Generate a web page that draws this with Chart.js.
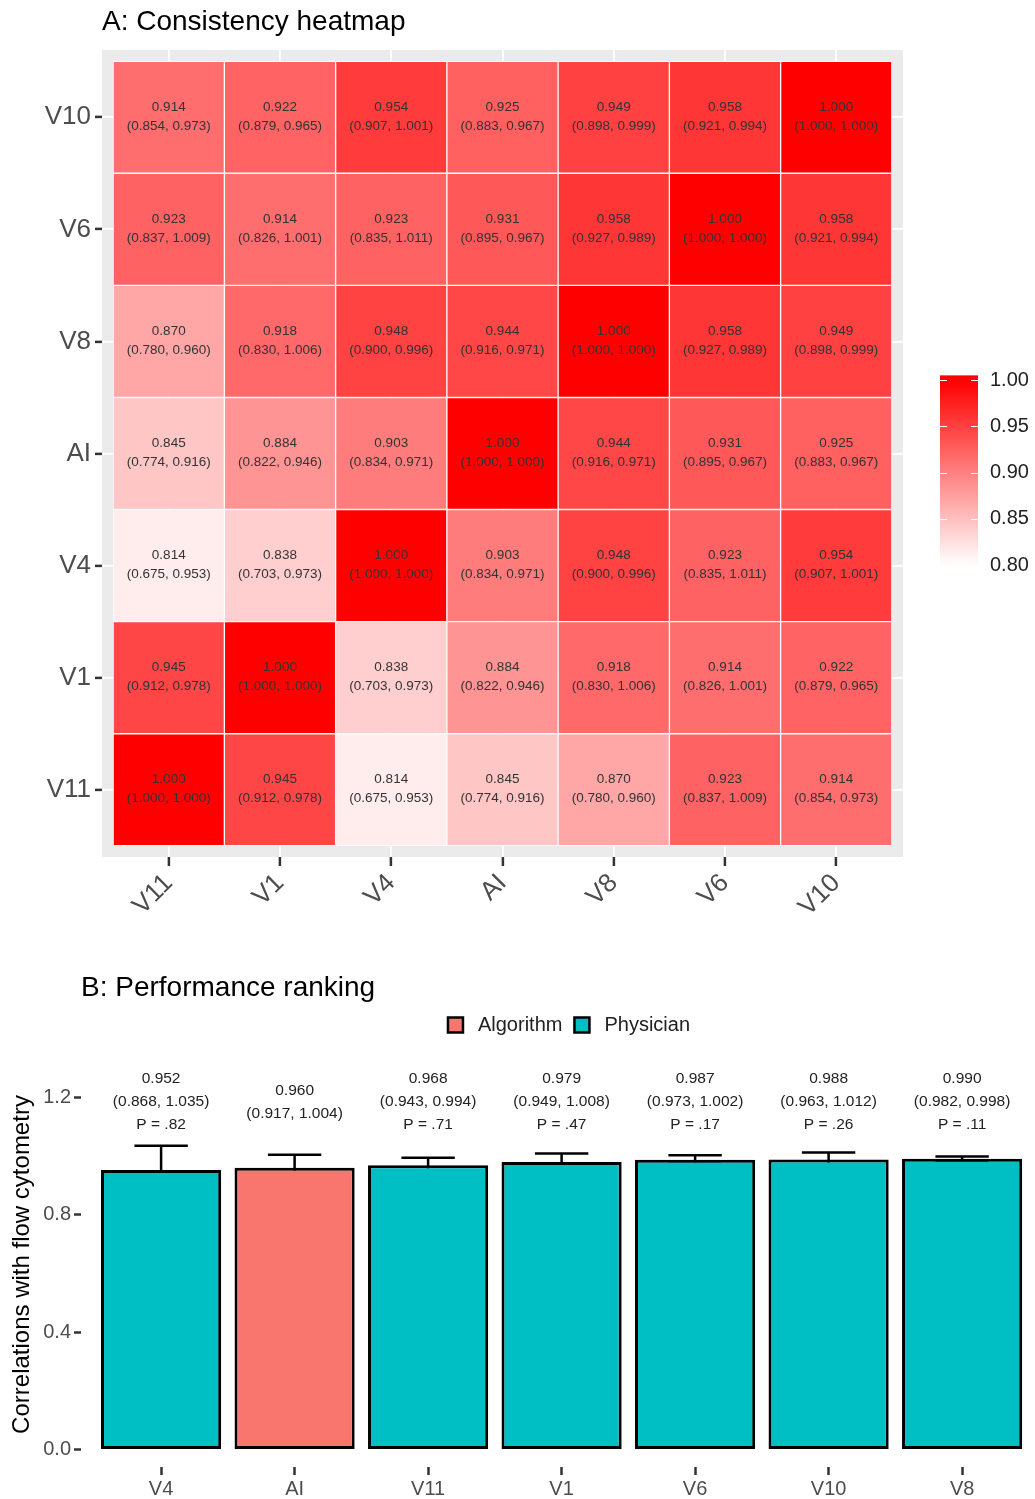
<!DOCTYPE html>
<html>
<head>
<meta charset="utf-8">
<script src="https://cdn.jsdelivr.net/npm/chart.js@4.4.0/dist/chart.umd.min.js"></script>
<style>
body { margin: 0; background: #fff; width: 1035px; height: 1499px; overflow: hidden; position: relative; }
#heat { position: absolute; left: 0; top: 0; }
#rank { position: absolute; left: 0; top: 935px; }
</style>
</head>
<body>
<canvas id="heat" width="1035" height="935"></canvas>
<canvas id="rank" width="1035" height="564"></canvas>
<script>
var FONT = "'Liberation Sans', Arial, sans-serif";

// ---- A: heatmap data (rows bottom -> top, columns left -> right)
var heat_cols = ["V11", "V1", "V4", "AI", "V8", "V6", "V10"];
var heat_rows = ["V11", "V1", "V4", "AI", "V8", "V6", "V10"];
var heat_est = [
    [1.000, 0.945, 0.814, 0.845, 0.870, 0.923, 0.914],
    [0.945, 1.000, 0.838, 0.884, 0.918, 0.914, 0.922],
    [0.814, 0.838, 1.000, 0.903, 0.948, 0.923, 0.954],
    [0.845, 0.884, 0.903, 1.000, 0.944, 0.931, 0.925],
    [0.870, 0.918, 0.948, 0.944, 1.000, 0.958, 0.949],
    [0.923, 0.914, 0.923, 0.931, 0.958, 1.000, 0.958],
    [0.914, 0.922, 0.954, 0.925, 0.949, 0.958, 1.000]
];
var heat_lo = [
    [1.000, 0.912, 0.675, 0.774, 0.780, 0.837, 0.854],
    [0.912, 1.000, 0.703, 0.822, 0.830, 0.826, 0.879],
    [0.675, 0.703, 1.000, 0.834, 0.900, 0.835, 0.907],
    [0.774, 0.822, 0.834, 1.000, 0.916, 0.895, 0.883],
    [0.780, 0.830, 0.900, 0.916, 1.000, 0.927, 0.898],
    [0.837, 0.826, 0.835, 0.895, 0.927, 1.000, 0.921],
    [0.854, 0.879, 0.907, 0.883, 0.898, 0.921, 1.000]
];
var heat_hi = [
    [1.000, 0.978, 0.953, 0.916, 0.960, 1.009, 0.973],
    [0.978, 1.000, 0.973, 0.946, 1.006, 1.001, 0.965],
    [0.953, 0.973, 1.000, 0.971, 0.996, 1.011, 1.001],
    [0.916, 0.946, 0.971, 1.000, 0.971, 0.967, 0.967],
    [0.960, 1.006, 0.996, 0.971, 1.000, 0.989, 0.999],
    [1.009, 1.001, 1.011, 0.967, 0.989, 1.000, 0.994],
    [0.973, 0.965, 1.001, 0.967, 0.999, 0.994, 1.000]
];
var cbar_ticks = [0.80, 0.85, 0.90, 0.95, 1.00];

// ---- B: ranking data
var rank_labels = ["V4", "AI", "V11", "V1", "V6", "V10", "V8"];
var rank_group = ["Physician", "Algorithm", "Physician", "Physician", "Physician", "Physician", "Physician"];
var rank_est = [0.952, 0.960, 0.968, 0.979, 0.987, 0.988, 0.990];
var rank_lo = [0.868, 0.917, 0.943, 0.949, 0.973, 0.963, 0.982];
var rank_hi = [1.035, 1.004, 0.994, 1.008, 1.002, 1.012, 0.998];
var rank_p = [".82", "", ".71", ".47", ".17", ".26", ".11"];
var rank_ticks = [0.0, 0.4, 0.8, 1.2];
var group_names = ["Algorithm", "Physician"];
var group_colors = { Algorithm: "#F8766D", Physician: "#00BFC4" };

// white -> red, plain rgb blend
function fillFor(v) {
    var t = Math.max(0, Math.min(1, (v - 0.8) / 0.2));
    var gb = Math.round(255 * (1 - t));
    return "rgb(255," + gb + "," + gb + ")";
}

// ---------------- A: heatmap ----------------
var heatDatasets = heat_rows.map(function(r, i) {
    return {
        label: r,
        data: heat_cols.map(function(c, j) { return { x: j + 1, y: [i + 0.5, i + 1.5] }; }),
        backgroundColor: heat_est[i].map(fillFor),
        borderColor: "rgba(255,255,255,0.85)",
        borderWidth: 1,
        borderSkipped: false,
        grouped: false,
        barPercentage: 1,
        categoryPercentage: 1
    };
});

var heatExtras = {
    id: "heatExtras",
    beforeDraw: function(chart) {
        var a = chart.chartArea, ctx = chart.ctx;
        ctx.save();
        ctx.fillStyle = "#EBEBEB";
        ctx.fillRect(a.left, a.top, a.right - a.left, a.bottom - a.top);
        ctx.restore();
    },
    afterDatasetsDraw: function(chart) {
        var ctx = chart.ctx;
        ctx.save();
        ctx.fillStyle = "#333";
        ctx.font = "13.5px " + FONT;
        ctx.textAlign = "center";
        ctx.textBaseline = "middle";
        heat_rows.forEach(function(r, i) {
            chart.getDatasetMeta(i).data.forEach(function(el, j) {
                var cy = (el.y + el.base) / 2;
                ctx.fillText(heat_est[i][j].toFixed(3), el.x, cy - 10);
                ctx.fillText("(" + heat_lo[i][j].toFixed(3) + ", " + heat_hi[i][j].toFixed(3) + ")", el.x, cy + 9);
            });
        });
        ctx.restore();
    },
    afterDraw: function(chart) {
        var ctx = chart.ctx, a = chart.chartArea;
        ctx.save();
        // title
        ctx.fillStyle = "#000";
        ctx.font = "28px " + FONT;
        ctx.textAlign = "left";
        ctx.textBaseline = "middle";
        ctx.fillText("A: Consistency heatmap", a.left, 22);
        // colour bar
        var bx = 940, bw = 38, yTop = 380, yBot = 565;
        function cy(v) { return yTop + (1.0 - v) / 0.2 * (yBot - yTop); }
        var g0 = cy(1.005), g1 = cy(0.795);
        var grad = ctx.createLinearGradient(0, g0, 0, g1);
        for (var k = 0; k <= 20; k++) {
            var v = 1.005 - k * 0.0105;
            grad.addColorStop(k / 20, fillFor(v));
        }
        ctx.fillStyle = grad;
        ctx.fillRect(bx, g0, bw, g1 - g0);
        ctx.strokeStyle = "#fff";
        ctx.lineWidth = 1;
        ctx.font = "20px " + FONT;
        ctx.fillStyle = "#222";
        cbar_ticks.forEach(function(t) {
            var y = Math.round(cy(t)) + 0.5;
            ctx.beginPath();
            ctx.moveTo(bx, y); ctx.lineTo(bx + 7, y);
            ctx.moveTo(bx + bw - 7, y); ctx.lineTo(bx + bw, y);
            ctx.stroke();
            ctx.fillText(t.toFixed(2), 990, cy(t));
        });
        ctx.restore();
    }
};

new Chart(document.getElementById("heat").getContext("2d"), {
    type: "bar",
    data: { datasets: heatDatasets },
    options: {
        responsive: false,
        animation: false,
        layout: { padding: { left: 0, top: 50, right: 132, bottom: 0 } },
        plugins: { legend: { display: false }, tooltip: { enabled: false } },
        scales: {
            x: {
                type: "linear", min: 0.4, max: 7.6, offset: false,
                afterBuildTicks: function(s) { s.ticks = heat_cols.map(function(c, j) { return { value: j + 1 }; }); },
                afterFit: function(s) { s.height = 78; },
                grid: { offset: false, color: "#fff", lineWidth: 1.8, tickColor: "#333", tickLength: 9, tickWidth: 2.5 },
                border: { display: false },
                ticks: {
                    autoSkip: false, maxRotation: 45, minRotation: 45, padding: 2,
                    color: "#4D4D4D", font: { family: FONT, size: 26 },
                    callback: function(v) { return heat_cols[v - 1]; }
                }
            },
            y: {
                type: "linear", min: 0.4, max: 7.6,
                afterBuildTicks: function(s) { s.ticks = heat_rows.map(function(r, i) { return { value: i + 1 }; }); },
                afterFit: function(s) { s.width = 102; },
                grid: { color: "#fff", lineWidth: 1.8, tickColor: "#333", tickLength: 7, tickWidth: 2.5 },
                border: { display: false },
                ticks: {
                    padding: 4, color: "#4D4D4D", font: { family: FONT, size: 26 },
                    callback: function(v) { return heat_rows[v - 1]; }
                }
            }
        }
    },
    plugins: [heatExtras]
});

// ---------------- B: ranking bars ----------------
var LABEL_Y = 1.183;

var rankExtras = {
    id: "rankExtras",
    beforeDatasetsDraw: function(chart) {
        var ctx = chart.ctx, xs = chart.scales.x, ys = chart.scales.y;
        ctx.save();
        ctx.strokeStyle = "#000";
        ctx.lineWidth = 2.5;
        rank_est.forEach(function(v, i) {
            var x = xs.getPixelForValue(i + 1);
            var xl = xs.getPixelForValue(i + 1 - 0.2), xr = xs.getPixelForValue(i + 1 + 0.2);
            var yl = ys.getPixelForValue(rank_lo[i]), yh = ys.getPixelForValue(rank_hi[i]);
            ctx.beginPath();
            ctx.moveTo(x, yl); ctx.lineTo(x, yh);
            ctx.moveTo(xl, yh); ctx.lineTo(xr, yh);
            ctx.moveTo(xl, yl); ctx.lineTo(xr, yl);
            ctx.stroke();
        });
        ctx.restore();
    },
    afterDatasetsDraw: function(chart) {
        var ctx = chart.ctx, xs = chart.scales.x, ys = chart.scales.y;
        ctx.save();
        ctx.fillStyle = "#222";
        ctx.font = "15.5px " + FONT;
        ctx.textAlign = "center";
        ctx.textBaseline = "middle";
        var mid = ys.getPixelForValue(LABEL_Y);
        rank_est.forEach(function(v, i) {
            var lines = [v.toFixed(3), "(" + rank_lo[i].toFixed(3) + ", " + rank_hi[i].toFixed(3) + ")"];
            if (rank_p[i]) lines.push("P = " + rank_p[i]);
            var x = xs.getPixelForValue(i + 1);
            var y0 = mid - (lines.length - 1) / 2 * 23;
            lines.forEach(function(t, k) { ctx.fillText(t, x, y0 + k * 23); });
        });
        ctx.restore();
    },
    afterDraw: function(chart) {
        var ctx = chart.ctx, a = chart.chartArea;
        ctx.save();
        ctx.fillStyle = "#000";
        ctx.font = "28px " + FONT;
        ctx.textAlign = "left";
        ctx.textBaseline = "middle";
        ctx.fillText("B: Performance ranking", a.left, 53);
        // legend
        ctx.font = "20px " + FONT;
        var box = 15, gapText = 15, gapItem = 12;
        var widths = group_names.map(function(n) { return box + gapText + ctx.measureText(n).width; });
        var total = widths.reduce(function(s, w) { return s + w; }, 0) + gapItem * (group_names.length - 1);
        var x = 569 - total / 2, y = 90;
        group_names.forEach(function(n, k) {
            ctx.fillStyle = group_colors[n];
            ctx.fillRect(x, y - box / 2, box, box);
            ctx.strokeStyle = "#000";
            ctx.lineWidth = 2.5;
            ctx.strokeRect(x, y - box / 2, box, box);
            ctx.fillStyle = "#222";
            ctx.fillText(n, x + box + gapText, y);
            x += widths[k] + gapItem;
        });
        ctx.restore();
    }
};

new Chart(document.getElementById("rank").getContext("2d"), {
    type: "bar",
    data: {
        datasets: [{
            label: "Correlation",
            data: rank_est.map(function(v, i) { return { x: i + 1, y: v }; }),
            backgroundColor: rank_group.map(function(g) { return group_colors[g]; }),
            borderColor: "#000",
            borderWidth: 3,
            borderSkipped: false,
            barPercentage: 0.9,
            categoryPercentage: 1
        }]
    },
    options: {
        responsive: false,
        animation: false,
        layout: { padding: { left: 0, top: 127, right: 0, bottom: 0 } },
        plugins: { legend: { display: false }, tooltip: { enabled: false } },
        scales: {
            x: {
                type: "linear", min: 0.4, max: 7.546, offset: false,
                afterBuildTicks: function(s) { s.ticks = rank_labels.map(function(c, j) { return { value: j + 1 }; }); },
                afterFit: function(s) { s.height = 32; },
                grid: { offset: false, drawOnChartArea: false, tickColor: "#333", tickLength: 8, tickWidth: 2.5 },
                border: { display: false },
                ticks: {
                    autoSkip: false, maxRotation: 0, padding: 2,
                    color: "#4D4D4D", font: { family: FONT, size: 20 },
                    callback: function(v) { return rank_labels[v - 1]; }
                }
            },
            y: {
                type: "linear", min: -0.06, max: 1.32,
                afterBuildTicks: function(s) { s.ticks = rank_ticks.map(function(v) { return { value: v }; }); },
                afterFit: function(s) { s.width = 81; },
                grid: { drawOnChartArea: false, tickColor: "#333", tickLength: 7, tickWidth: 2.5 },
                border: { display: false },
                title: {
                    display: true, text: "Correlations with flow cytometry", color: "#000",
                    font: { family: FONT, size: 24 }, padding: { top: 8, bottom: 0 }
                },
                ticks: {
                    padding: 3, color: "#4D4D4D", font: { family: FONT, size: 20 },
                    callback: function(v) { return v.toFixed(1); }
                }
            }
        }
    },
    plugins: [rankExtras]
});
</script>
</body>
</html>
